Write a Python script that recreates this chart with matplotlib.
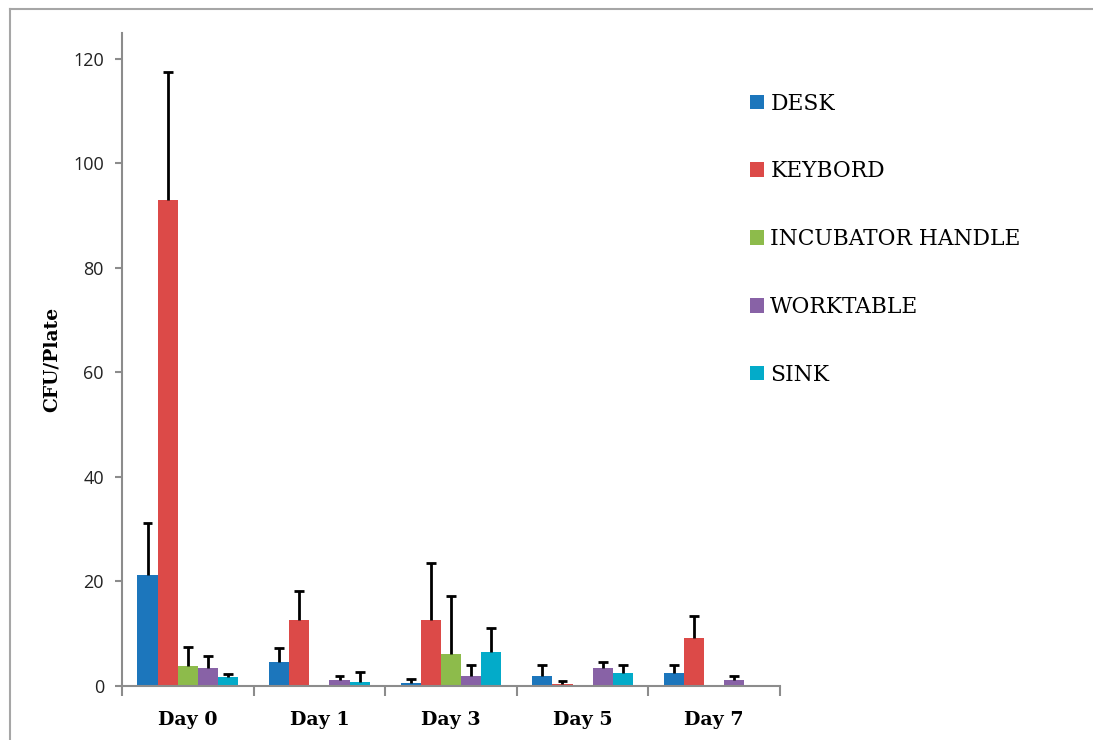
import matplotlib.pyplot as plt
import numpy as np

days = ['Day 0', 'Day 1', 'Day 3', 'Day 5', 'Day 7']
surfaces = ['DESK', 'KEYBORD', 'INCUBATOR HANDLE', 'WORKTABLE', 'SINK']

desk = [21.3, 4.6, 0.64, 2.0, 2.55]
keybord = [93.0, 12.6, 12.6, 0.3, 9.2]
incubator = [3.9, 0, 6.1, 0, 0]
worktable = [3.5, 1.2, 2.0, 3.4, 1.2]
sink = [1.66, 0.8, 6.56, 2.55, 0]

# upper error (SD) for each bar, 0 = no error bar
desk_err = [9.9, 2.6, 0.66, 1.95, 1.55]
keybord_err = [24.4, 5.6, 11.0, 0.6, 4.2]
incubator_err = [3.5, 0, 11.1, 0, 0]
worktable_err = [2.2, 0.7, 1.95, 1.1, 0.7]
sink_err = [0.54, 1.9, 4.54, 1.55, 0]

values = [desk, keybord, incubator, worktable, sink]
errors = [desk_err, keybord_err, incubator_err, worktable_err, sink_err]
colors = ['#1c76bc', '#dc4a48', '#8dbb4b', '#8862a6', '#03abc9']

fig = plt.figure(figsize=(10.93, 7.4), dpi=100)
ax = fig.add_axes([122/1093, 1 - 686/740, 658/1093, 653/740])

x = np.arange(len(days))
w = 0.153
cap = 0.037
for i in range(len(surfaces)):
    pos = x + (i - 2) * w
    ax.bar(pos, values[i], w, color=colors[i], label=surfaces[i], zorder=2)
    v = np.array(values[i])
    e = np.array(errors[i])
    m = e > 0
    # only the plus side of the error bar, like in Excel
    ax.vlines(pos[m], v[m], v[m] + e[m], color='black', lw=2, zorder=3)
    ax.hlines(v[m] + e[m], pos[m] - cap, pos[m] + cap, color='black', lw=2, zorder=3)

ax.set_xlim(-0.5, 4.5)
ax.set_ylim(0, 124.9)
ax.set_yticks([0, 20, 40, 60, 80, 100, 120])
ax.set_xticks(x)
ax.set_xticklabels(days, fontfamily='DejaVu Serif', fontweight='bold', fontsize=13.7)
ax.set_xticks(np.arange(-0.5, 5, 1), minor=True)
ax.tick_params(axis='x', which='major', length=0, pad=18)
ax.tick_params(axis='x', which='minor', length=7, width=1.5, color='#8c8c8c', direction='out')
ax.tick_params(axis='y', length=5, width=1.5, color='#8c8c8c', pad=8, labelsize=13,
               labelcolor='#222222')
for lab in ax.get_yticklabels():
    lab.set_fontfamily('Open Sans')

for s in ['top', 'right']:
    ax.spines[s].set_visible(False)
for s in ['left', 'bottom']:
    ax.spines[s].set_color('#8c8c8c')
    ax.spines[s].set_linewidth(1.5)

ax.set_ylabel('CFU/Plate', fontfamily='DejaVu Serif', fontweight='bold', fontsize=13.5)
ax.yaxis.set_label_coords(-0.093, 0.5)

leg = fig.legend(loc='upper left', bbox_to_anchor=(730/1093, 1 - 73/740), frameon=False,
                 prop={'family': 'DejaVu Serif', 'size': 15.7}, labelspacing=2.1,
                 handlelength=0.65, handleheight=0.65, handletextpad=0.3)

# thin grey border around the figure (top and left as in the original)
fig.add_artist(plt.Line2D([10/1093, 1], [1 - 9/740, 1 - 9/740], color='#a6a6a6', lw=1.5))
fig.add_artist(plt.Line2D([10/1093, 10/1093], [0, 1 - 9/740], color='#a6a6a6', lw=1.5))

fig.savefig('out.png', dpi=100)
